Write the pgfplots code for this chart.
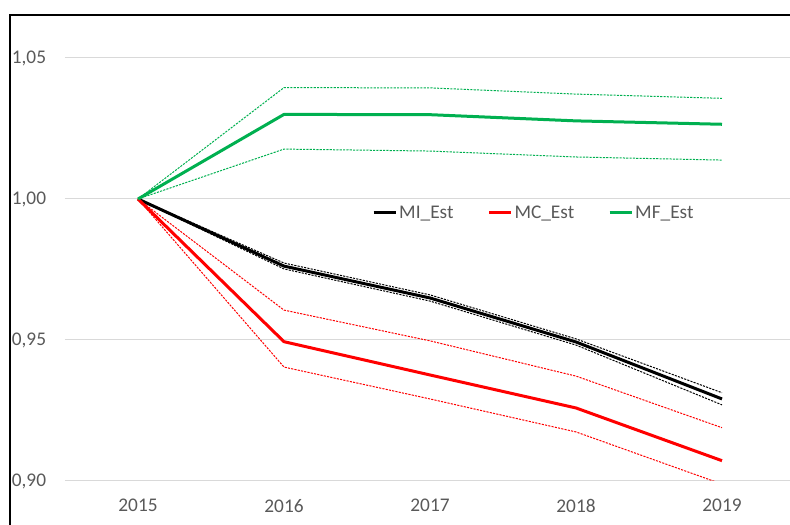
\documentclass[border=0pt]{standalone}
\usepackage{fontspec}
\setmainfont{Carlito}
\usepackage{pgfplots}
\pgfplotsset{compat=1.18}
\definecolor{xgreen}{RGB}{0,176,80}
\definecolor{xred}{RGB}{255,0,0}
\definecolor{txtgray}{RGB}{89,89,89}
\definecolor{gridgray}{RGB}{217,217,217}
\begin{document}
\begin{tikzpicture}
\useasboundingbox (0pt,0pt) rectangle (592.5pt,393.75pt);
\begin{axis}[
  at={(48.75pt,33pt)}, anchor=south west,
  scale only axis, width=547.5pt, height=317.25pt,
  xmin=-0.5, xmax=4.5, ymin=0.9, ymax=1.05,
  axis line style={draw=none},
  major tick length=0pt,
  xtick={0,1,2,3,4},
  xticklabels={2015,2016,2017,2018,2019},
  ytick={0.90,0.95,1.00,1.05},
  yticklabels={{0,90},{0,95},{1,00},{1,05}},
  ymajorgrids, grid style={gridgray, line width=0.75pt},
  tick label style={font=\fontsize{14.5}{17}\selectfont, text=txtgray},
  xticklabel style={anchor=north, inner sep=0pt, yshift=-13.5pt},
  yticklabel style={anchor=east, inner sep=0pt, xshift=-14pt},
  clip=true,
  legend columns=3,
  legend style={draw=none, fill=none, inner sep=0pt, at={(0.4205,0.634)}, anchor=west,
    font=\fontsize{14.5}{17}\selectfont, text=txtgray,
    nodes={inner sep=1.5pt},
    /tikz/every even column/.append style={column sep=24pt}},
  legend image code/.code={\draw[#1] (0pt,0pt) -- (16.5pt,0pt);},
  main/.style={line width=2.25pt, line join=round},
  band/.style={line width=0.75pt, dash pattern=on 1.6pt off 0.9pt, forget plot},
]
% black bands
\addplot[band, black] coordinates {(0,1) (1,0.9773) (2,0.9660) (3,0.9504) (4,0.9313)};
\addplot[band, black] coordinates {(0,1) (1,0.9752) (2,0.9638) (3,0.9482) (4,0.9270)};
% red bands
\addplot[band, xred] coordinates {(0,1) (1,0.9606) (2,0.9497) (3,0.9372) (4,0.9189)};
\addplot[band, xred] coordinates {(0,1) (1,0.9404) (2,0.9291) (3,0.9174) (4,0.8989)};
% green bands
\addplot[band, xgreen] coordinates {(0,1) (1,1.0395) (2,1.0394) (3,1.0372) (4,1.0357)};
\addplot[band, xgreen] coordinates {(0,1) (1,1.0177) (2,1.0170) (3,1.0149) (4,1.0138)};
% main lines
\addplot[main, black] coordinates {(0,1) (1,0.9762) (2,0.9649) (3,0.9493) (4,0.9291)};
\addlegendentry{MI\_Est}
\addplot[main, xred] coordinates {(0,1) (1,0.9494) (2,0.9376) (3,0.9259) (4,0.9072)};
\addlegendentry{MC\_Est}
\addplot[main, xgreen] coordinates {(0,1) (1,1.0300) (2,1.0299) (3,1.0277) (4,1.0265)};
\addlegendentry{MF\_Est}
\end{axis}
\draw[line width=1.5pt] (7.5pt,-5pt) -- (7.5pt,382.5pt) -- (600pt,382.5pt);
\end{tikzpicture}
\end{document}
